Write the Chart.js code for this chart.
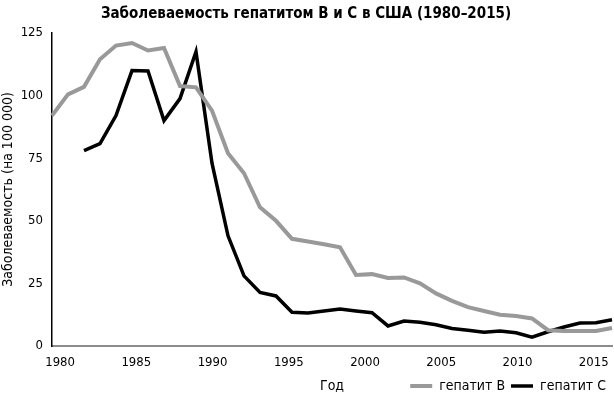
<!DOCTYPE html>
<html>
<head>
<meta charset="utf-8">
<script src="https://cdn.jsdelivr.net/npm/chart.js@4.4.1/dist/chart.umd.min.js"></script>
<style>
    html, body { margin: 0; padding: 0; background: #ffffff; }
    #cadre { width: 614px; height: 398px; }
</style>
</head>
<body>
<div id="cadre"><canvas id="graphique-hepatite"></canvas></div>
<script>
/*
    ********************************
        données du graphique
    ********************************
*/
const annees = [1980, 1981, 1982, 1983, 1984, 1985, 1986, 1987, 1988, 1989,
                1990, 1991, 1992, 1993, 1994, 1995, 1996, 1997, 1998, 1999,
                2000, 2001, 2002, 2003, 2004, 2005, 2006, 2007, 2008, 2009,
                2010, 2011, 2012, 2013, 2014, 2015];

const hepatiteB = [92, 100.5, 103.5, 114.5, 120, 121, 118, 119, 103.8, 103.3,
                   94, 77, 69, 55.4, 50, 42.8, 41.7, 40.6, 39.4, 28.4,
                   28.7, 27.2, 27.4, 25, 21, 18, 15.5, 14, 12.5, 12,
                   11, 6.3, 6, 6, 6, 7.2];

const hepatiteC = [null, null, 78, 80.8, 92, 110, 109.8, 90, 98.8, 117.5,
                   73, 44, 28, 21.4, 20, 13.5, 13.2, 14, 14.8, 14,
                   13.3, 8, 10, 9.5, 8.5, 7, 6.3, 5.5, 6, 5.3,
                   3.5, 5.7, 7.6, 9.2, 9.3, 10.5];

// étiquettes de l'axe horizontal et de l'axe vertical
const etiquettesAnnees = [1980, 1985, 1990, 1995, 2000, 2005, 2010, 2015];
const etiquettesValeurs = [0, 25, 50, 75, 100, 125];

const titreGraphique = "Заболеваемость гепатитом B и C в США (1980–2015)";
const titreAxeY = "Заболеваемость (на 100 000)";
const titreAxeX = "Год";
const nomsSeries = ["гепатит B", "гепатит C"];

const police = "'Liberation Sans Narrow', 'DejaVu Sans Condensed', 'Roboto', sans-serif";


/*
    ********************************
    plugin qui écrit "Год" sur la
    ligne de la légende
    ********************************
*/
const titreAxeXPlugin = {
    id: "titreAxeX",
    afterDraw(chart) {
        const ctx = chart.ctx;
        const boites = chart.legend.legendHitBoxes;
        if (!boites || !boites.length) return;
        const y = boites[0].top + boites[0].height / 2;
        const x = (chart.chartArea.left + chart.chartArea.right) / 2;
        ctx.save();
        ctx.font = "14px " + police;
        ctx.fillStyle = "#000000";
        ctx.textAlign = "center";
        ctx.textBaseline = "middle";
        ctx.fillText(titreAxeX, x, y);
        ctx.restore();
    }
};


/*
    ********************************
    rendu du graphique
    ********************************
*/
const data = {
    labels: annees,
    datasets: [{
        label: nomsSeries[0],
        data: hepatiteB,
        borderColor: "#999999",
        backgroundColor: "#999999",
        borderWidth: 4,
        pointRadius: 0,
        pointStyle: "line",
        tension: 0
    }, {
        label: nomsSeries[1],
        data: hepatiteC,
        borderColor: "#000000",
        backgroundColor: "#000000",
        borderWidth: 3.5,
        pointRadius: 0,
        pointStyle: "line",
        tension: 0
    }]
};

const config = {
    type: "line",
    data: data,
    options: {
        responsive: true,
        maintainAspectRatio: false,
        animation: false,
        layout: { padding: { left: 0, right: 2, top: 0, bottom: -5 } },
        plugins: {
            title: {
                display: true,
                text: titreGraphique,
                color: "#000000",
                font: { family: police, size: 15, weight: "bold" },
                padding: { top: 5, bottom: 10 }
            },
            legend: {
                display: true,
                position: "bottom",
                align: "end",
                labels: {
                    usePointStyle: true,
                    pointStyleWidth: 22,
                    color: "#000000",
                    font: { family: police, size: 14 },
                    padding: 6
                }
            },
            tooltip: { enabled: false }
        },
        scales: {
            x: {
                type: "category",
                offset: false,
                display: false
            },
            xEtiquettes: {
                type: "linear",
                position: "bottom",
                min: 1979.47,
                max: 2016.2,
                afterBuildTicks: function (axe) {
                    axe.ticks = etiquettesAnnees.map(v => ({ value: v }));
                },
                grid: { display: false, drawTicks: false },
                border: { display: true, color: "#8c8c8c", width: 2 },
                ticks: {
                    color: "#000000",
                    font: { family: police, size: 13 },
                    padding: 9,
                    maxRotation: 0,
                    autoSkip: false,
                    callback: v => String(v)
                },
                afterFit: function (axe) {
                    axe.height = 27;
                    axe.paddingLeft = 0;
                    axe.paddingRight = 0;
                }
            },
            y: {
                min: 0,
                max: 125,
                afterBuildTicks: function (axe) {
                    axe.ticks = etiquettesValeurs.map(v => ({ value: v }));
                },
                grid: { display: false, drawTicks: false },
                border: { display: true, color: "#000000", width: 1.5 },
                ticks: {
                    color: "#000000",
                    font: { family: police, size: 13 },
                    padding: 9
                },
                title: {
                    display: true,
                    text: titreAxeY,
                    color: "#000000",
                    font: { family: police, size: 14 },
                    padding: 0
                },
                afterFit: function (axe) { axe.width = 52; }
            }
        }
    },
    plugins: [titreAxeXPlugin]
};

const graphiqueHepatite = new Chart(
    document.querySelector("#graphique-hepatite"),
    config
);
</script>
</body>
</html>
